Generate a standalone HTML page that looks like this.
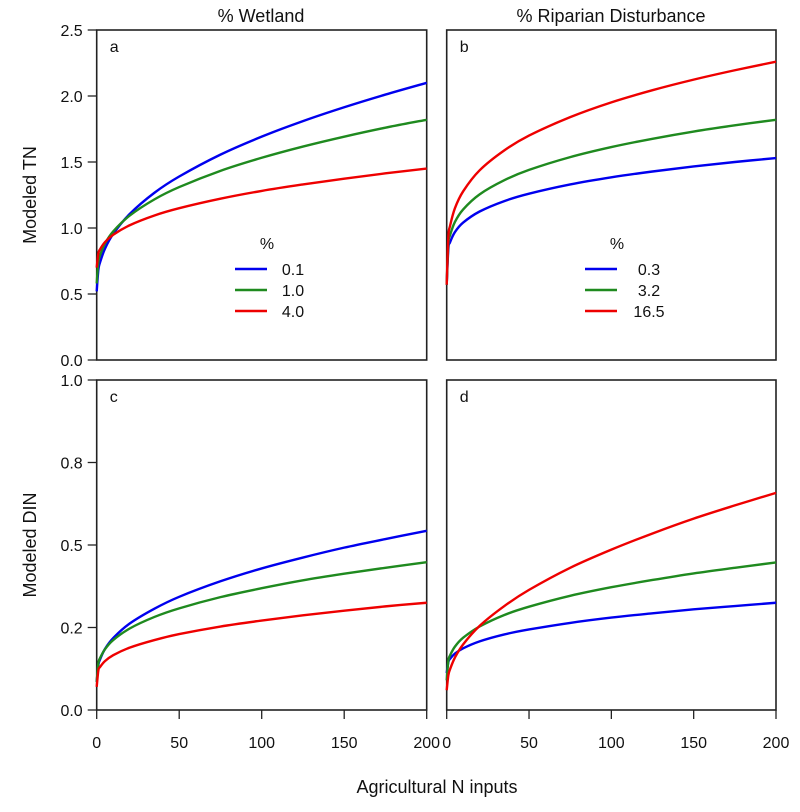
<!DOCTYPE html>
<html><head><meta charset="utf-8"><style>
body{margin:0;background:#fff;}
svg text{font-family:"Liberation Sans",Arial,sans-serif;fill:#111;}
</style></head><body>
<svg id="chart" width="800" height="807" viewBox="0 0 800 807" xmlns="http://www.w3.org/2000/svg"></svg>
<script>
const xs = [0,1,2,5,10,20,35,50,75,100,125,150,175,200];
const aBlue  = [0.52,0.682,0.738,0.843,0.955,1.106,1.267,1.39,1.556,1.692,1.810,1.915,2.011,2.10];
const aGreen = [0.58,0.743,0.793,0.882,0.974,1.094,1.217,1.31,1.433,1.532,1.617,1.692,1.76,1.82];
const aRed   = [0.70,0.807,0.838,0.893,0.949,1.021,1.095,1.15,1.222,1.281,1.330,1.374,1.414,1.45];
const bBlue  = [0.57,0.842,0.891,0.969,1.041,1.125,1.204,1.26,1.330,1.384,1.428,1.466,1.500,1.53];
const bGreen = [0.57,0.882,0.944,1.046,1.141,1.255,1.362,1.44,1.537,1.613,1.676,1.731,1.778,1.82];
const bRed   = [0.57,0.934,1.014,1.150,1.278,1.437,1.588,1.70,1.840,1.952,2.044,2.124,2.195,2.26];
const cBlue  = [0.085,0.136,0.153,0.185,0.218,0.262,0.307,0.343,0.390,0.429,0.462,0.492,0.518,0.543];
const cGreen = [0.085,0.141,0.157,0.184,0.212,0.247,0.282,0.308,0.342,0.369,0.393,0.413,0.431,0.448];
const cRed   = [0.07,0.120,0.130,0.148,0.166,0.189,0.212,0.23,0.253,0.271,0.287,0.301,0.314,0.325];
const dBlue  = [0.112,0.145,0.155,0.171,0.187,0.208,0.229,0.244,0.264,0.280,0.293,0.305,0.315,0.325];
const dGreen = [0.09,0.149,0.165,0.192,0.219,0.253,0.288,0.313,0.346,0.372,0.394,0.414,0.431,0.447];
const dRed   = [0.06,0.105,0.123,0.159,0.199,0.255,0.315,0.364,0.431,0.486,0.535,0.580,0.620,0.658];
const xTicks = [0,50,100,150,200];
const tnTicks = [0,0.5,1.0,1.5,2.0,2.5];
const tnLabels = ["0.0","0.5","1.0","1.5","2.0","2.5"];
const dinTicks = [0,0.25,0.5,0.75,1.0];
const dinLabels = ["0.0","0.2","0.5","0.8","1.0"];
const legendA = ["0.1","1.0","4.0"];
const legendB = ["0.3","3.2","16.5"];

const NS="http://www.w3.org/2000/svg";
const svg=document.getElementById('chart');
function mk(tag,attrs,parent,text){const e=document.createElementNS(NS,tag);for(const k in attrs)e.setAttribute(k,attrs[k]);if(text!==undefined)e.textContent=text;(parent||svg).appendChild(e);return e;}
const colors=["#0000ee","#1f8a1f","#ee0000"];
const cnames=["blue","green","red"];
function panel(id,L,T,R,B,ymax,series,letter,showY,yt,yl,showX){
  const g=mk('g',{});
  
  
  const sx=v=>L+(v/200)*(R-L), sy=v=>B-(v/ymax)*(B-T);
  const fr=mk('rect',{x:L,y:T,width:R-L,height:B-T,fill:'none',stroke:'#222','stroke-width':1.6},g);
  
  
  const lt=mk('text',{x:L+13,y:T+22,'font-size':16},g,letter);
  
  
  series.forEach((s,i)=>{
    const pts=xs.map((x,j)=>[sx(x),sy(s[j])]);
    let d='M'+pts[0][0]+','+pts[0][1];
    for(let j=0;j<pts.length-1;j++){
      const p0=pts[Math.max(j-1,0)],p1=pts[j],p2=pts[j+1],p3=pts[Math.min(j+2,pts.length-1)];
      const c1=[p1[0]+(p2[0]-p0[0])/6,p1[1]+(p2[1]-p0[1])/6];
      const c2=[p2[0]-(p3[0]-p1[0])/6,p2[1]-(p3[1]-p1[1])/6];
      d+=' C'+c1[0].toFixed(2)+','+c1[1].toFixed(2)+' '+c2[0].toFixed(2)+','+c2[1].toFixed(2)+' '+p2[0].toFixed(2)+','+p2[1].toFixed(2);
    }
    const p=mk('path',{d:d,fill:'none',stroke:colors[i],'stroke-width':2.4},g);
    
    
  });
  if(showY){
    yt.forEach((v,i)=>{
      mk('line',{x1:L-9,x2:L,y1:sy(v),y2:sy(v),stroke:'#222','stroke-width':1.3},g);
      const t=mk('text',{x:L-14,y:sy(v)+6,'font-size':16,'text-anchor':'end'},g,yl[i]);
      
      
    });
  }
  if(showX){
    xTicks.forEach(v=>{
      mk('line',{x1:sx(v),x2:sx(v),y1:B,y2:B+9,stroke:'#222','stroke-width':1.3},g);
      const t=mk('text',{x:sx(v),y:B+38,'font-size':16,'text-anchor':'middle'},g,String(v));
      
      
    });
  }
  return {g,sx,sy};
}
panel('a',96.7,30,426.7,360,2.5,[aBlue,aGreen,aRed],'a',true,tnTicks,tnLabels,false);
panel('b',446.7,30,776,360,2.5,[bBlue,bGreen,bRed],'b',false,null,null,false);
panel('c',96.7,380,426.7,710,1.0,[cBlue,cGreen,cRed],'c',true,dinTicks,dinLabels,true);
panel('d',446.7,380,776,710,1.0,[dBlue,dGreen,dRed],'d',false,null,null,true);

function legend(x0,labels,labelX,name){
  const g=mk('g',{});
  
  
  mk('text',{x:x0+32,y:249,'font-size':16,'text-anchor':'middle'},g,'%');
  labels.forEach((l,i)=>{
    const y=269+i*21;
    mk('line',{x1:x0,x2:x0+32,y1:y,y2:y,stroke:colors[i],'stroke-width':2.4},g);
    const t=mk('text',{x:labelX,y:y+6,'font-size':16,'text-anchor':'middle'},g,l);
    
    
  });
}
legend(235,legendA,293,'legend-a');
legend(585,legendB,649,'legend-b');

function label(txt,attrs,name){const t=mk('text',attrs,svg,txt);}
label('% Wetland',{x:261,y:22,'font-size':18,'text-anchor':'middle'},'column-title-wetland');
label('% Riparian Disturbance',{x:611,y:22,'font-size':18,'text-anchor':'middle'},'column-title-riparian');
label('Modeled TN',{x:0,y:0,'font-size':18,'text-anchor':'middle',transform:'translate(36,195) rotate(-90)'},'y-axis-title-tn');
label('Modeled DIN',{x:0,y:0,'font-size':18,'text-anchor':'middle',transform:'translate(36,545) rotate(-90)'},'y-axis-title-din');
label('Agricultural N inputs',{x:437,y:793,'font-size':18,'text-anchor':'middle'},'x-axis-title');
</script>
</body></html>
